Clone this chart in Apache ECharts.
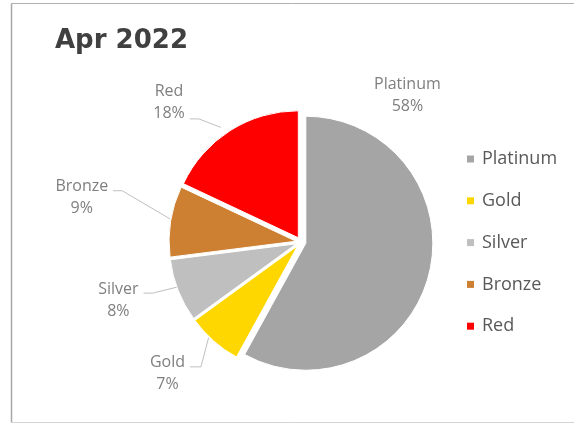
<!DOCTYPE html>
<html>
<head>
<meta charset="utf-8">
<script src="https://cdn.jsdelivr.net/npm/echarts@6/dist/echarts.min.js"></script>
<style>
  html, body { margin: 0; padding: 0; background: #fff; }
  #chart { width: 574px; height: 424px; }
</style>
</head>
<body>
<div id="chart"></div>
<script>
const chartTitle = 'Apr 2022';
const categories = ['Platinum', 'Gold', 'Silver', 'Bronze', 'Red'];
const shares = [58, 7, 8, 9, 18];
const palette = ['#a5a5a5', '#ffd700', '#bfbfbf', '#cd7f32', '#ff0000'];

// pie geometry
const CX = 301, CY = 242, R = 127;
const EXPLODE = 5; // every slice is pulled out from the centre by this much

// leader lines: start and bend as (angle clockwise from 12 o'clock, radius) around the pie centre,
// then a short horizontal run towards the text; dy = text block centre relative to the run
const leaders = {
  Red:    { a0: -35,  r0: 140, a1: -39.7, r1: 160, run: 9,  dy: -16.5 },
  Bronze: { a0: 280,  r0: 133, a1: 286,   r1: 186, run: 9,  dy: 7 },
  Silver: { a0: 250,  r0: 132, a1: 251,   r1: 157, run: 9,  dy: 7.5 },
  Gold:   { a0: 224,  r0: 133, a1: 218.7, r1: 160, run: 11, dy: 7 }
};
// the large slice carries its label above-right without a leader
const freeLabel = { a: 36, r: 181 };

function polar(a, r) {
  const t = a * Math.PI / 180;
  return [CX + r * Math.sin(t), CY - r * Math.cos(t)];
}

function placeLabel(p) {
  const name = categories[p.dataIndex];
  if (!leaders[name]) {
    const c = polar(freeLabel.a, freeLabel.r);
    return { x: c[0], y: c[1], align: 'center', verticalAlign: 'middle' };
  }
  const g = leaders[name];
  const s = polar(g.a0, g.r0);
  const b = polar(g.a1, g.r1);
  const e = [b[0] - g.run, b[1]];
  return {
    x: e[0] - 5 - p.labelRect.width / 2,
    y: e[1] + g.dy,
    align: 'center',
    verticalAlign: 'middle',
    labelLinePoints: [s, b, e]
  };
}

// one pie layer per slice so each slice can sit on its own exploded centre
const total = shares.reduce((a, b) => a + b, 0);
let running = 0;
const layers = categories.map((name, i) => {
  const mid = (running + shares[i] / 2) / total * 360;
  running += shares[i];
  return {
    type: 'pie',
    name: name,
    center: polar(mid, EXPLODE),
    radius: R,
    startAngle: 90,
    clockwise: true,
    avoidLabelOverlap: false,
    silent: true,
    emphasis: { disabled: true },
    label: {
      show: true,
      position: 'outside',
      fontFamily: 'Open Sans',
      fontSize: 16,
      lineHeight: 22,
      color: '#7f7f7f',
      formatter: p => p.name + '\n' + Math.round(p.percent) + '%'
    },
    labelLine: { show: true, lineStyle: { color: '#bfbfbf', width: 1 } },
    labelLayout: placeLabel,
    data: categories.map((n, j) => j === i
      ? {
          name: n, value: shares[j],
          itemStyle: { color: palette[j], borderColor: '#ffffff', borderWidth: 1 },
          labelLine: { show: leaders[n] !== undefined }
        }
      : {
          name: n, value: shares[j],
          itemStyle: { color: 'rgba(0,0,0,0)', borderWidth: 0 },
          label: { show: false },
          labelLine: { show: false }
        })
  };
});

const chart = echarts.init(document.getElementById('chart'), null, { renderer: 'canvas' });

chart.setOption({
  animation: false,
  title: {
    text: chartTitle,
    left: 50,
    top: 23,
    textStyle: { fontFamily: 'DejaVu Sans', fontWeight: 'bold', fontSize: 26, color: '#404040' }
  },
  legend: {
    orient: 'vertical',
    left: 467,
    top: 149,
    padding: 0,
    icon: 'rect',
    itemWidth: 7,
    itemHeight: 7,
    itemGap: 21.8,
    selectedMode: false,
    textStyle: { fontFamily: 'Open Sans', fontSize: 18, color: '#595959', lineHeight: 20, padding: [0, 0, 0, 3] },
    data: categories.map((n, i) => ({ name: n, itemStyle: { color: palette[i] } }))
  },
  graphic: [
    { type: 'line', shape: { x1: 11.5, y1: 3.5, x2: 574, y2: 3.5 }, style: { stroke: '#b0b0b0', lineWidth: 1 }, silent: true },
    { type: 'line', shape: { x1: 11.5, y1: 3.5, x2: 11.5, y2: 422.5 }, style: { stroke: '#a8a8a8', lineWidth: 1.5 }, silent: true },
    { type: 'line', shape: { x1: 11.5, y1: 422.5, x2: 574, y2: 422.5 }, style: { stroke: '#d4d4d4', lineWidth: 1 }, silent: true }
  ],
  series: layers
});
</script>
</body>
</html>
